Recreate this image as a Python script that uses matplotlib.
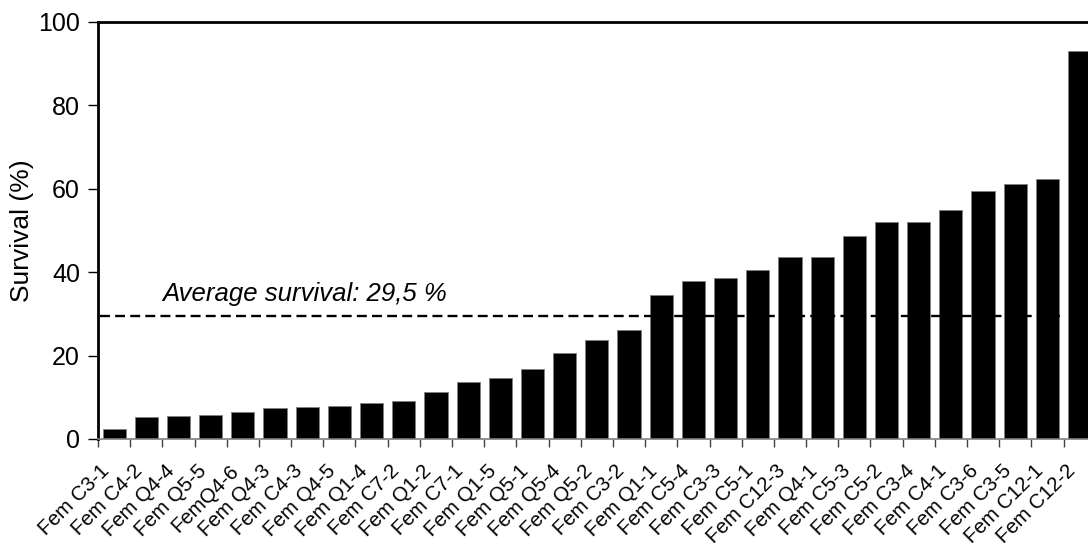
import matplotlib

matplotlib.use("Agg")

import matplotlib.pyplot as plt  # noqa: E402
import matplotlib.transforms as mtransforms  # noqa: E402
import numpy as np  # noqa: E402

plt.rcParams["font.family"] = ["Liberation Sans", "DejaVu Sans"]

labels = [
    "Fem C3-1", "Fem C4-2", "Fem Q4-4", "Fem Q5-5", "FemQ4-6", "Fem Q4-3",
    "Fem C4-3", "Fem Q4-5", "Fem Q1-4", "Fem C7-2", "Fem Q1-2", "Fem C7-1",
    "Fem Q1-5", "Fem Q5-1", "Fem Q5-4", "Fem Q5-2", "Fem C3-2", "Fem Q1-1",
    "Fem C5-4", "Fem C3-3", "Fem C5-1", "Fem C12-3", "Fem Q4-1", "Fem C5-3",
    "Fem C5-2", "Fem C3-4", "Fem C4-1", "Fem C3-6", "Fem C3-5", "Fem C12-1",
    "Fem C12-2",
]
survival = [
    2.5, 5.3, 5.5, 5.7, 6.4, 7.4, 7.6, 7.8, 8.7, 9.1, 11.3, 13.7,
    14.7, 16.7, 20.6, 23.7, 26.1, 34.4, 37.9, 38.6, 40.5, 43.6, 43.6, 48.6,
    51.9, 52.1, 55.0, 59.5, 61.2, 62.4, 92.9,
]
average = 29.5
y_ticks = [0, 20, 40, 60, 80, 100]


def main() -> None:
    fig = plt.figure(figsize=(10.88, 5.46), dpi=100)
    # axes runs a little past the right edge, as in the original export
    ax = fig.add_axes([0.0901, 0.196, 0.917, 0.764])
    x = np.arange(len(labels))
    ax.bar(x, survival, width=0.72, color="black", edgecolor="#808080", linewidth=0.6, zorder=2)
    ax.hlines(average, -0.44, 29.4, colors="black", linestyles=(0, (4.2, 2.2)), linewidth=1.7, zorder=3)
    ax.text(1.5, average + 2.3, "Average survival: 29,5 %", fontsize=18.5, style="italic", ha="left", va="bottom")

    ax.set_xlim(-0.5, len(labels) - 0.5)
    ax.set_ylim(0, 100)
    ax.set_yticks(y_ticks)
    ax.tick_params(axis="y", labelsize=18, length=7, width=1, direction="out", pad=6)
    ax.set_ylabel("Survival (%)", fontsize=19, labelpad=3)

    ax.set_xticks(x)
    ax.set_xticklabels(labels, rotation=45, ha="right", va="top", rotation_mode="anchor", fontsize=14.8)
    ax.tick_params(axis="x", which="major", length=0, pad=16)
    shift = mtransforms.ScaledTranslation(-0.14, 0, fig.dpi_scale_trans)
    for lab in ax.get_xticklabels():
        lab.set_transform(lab.get_transform() + shift)
    ax.set_xticks(np.arange(len(labels)) - 0.5, minor=True)
    ax.tick_params(axis="x", which="minor", length=6, width=1, direction="out", color="#404040")

    for side in ["left", "top", "bottom", "right"]:
        ax.spines[side].set_linewidth(2 if side != "bottom" else 1.2)
    ax.spines["bottom"].set_color("#808080")

    fig.savefig("out.png", dpi=100)
    plt.close(fig)


if __name__ == "__main__":
    main()
